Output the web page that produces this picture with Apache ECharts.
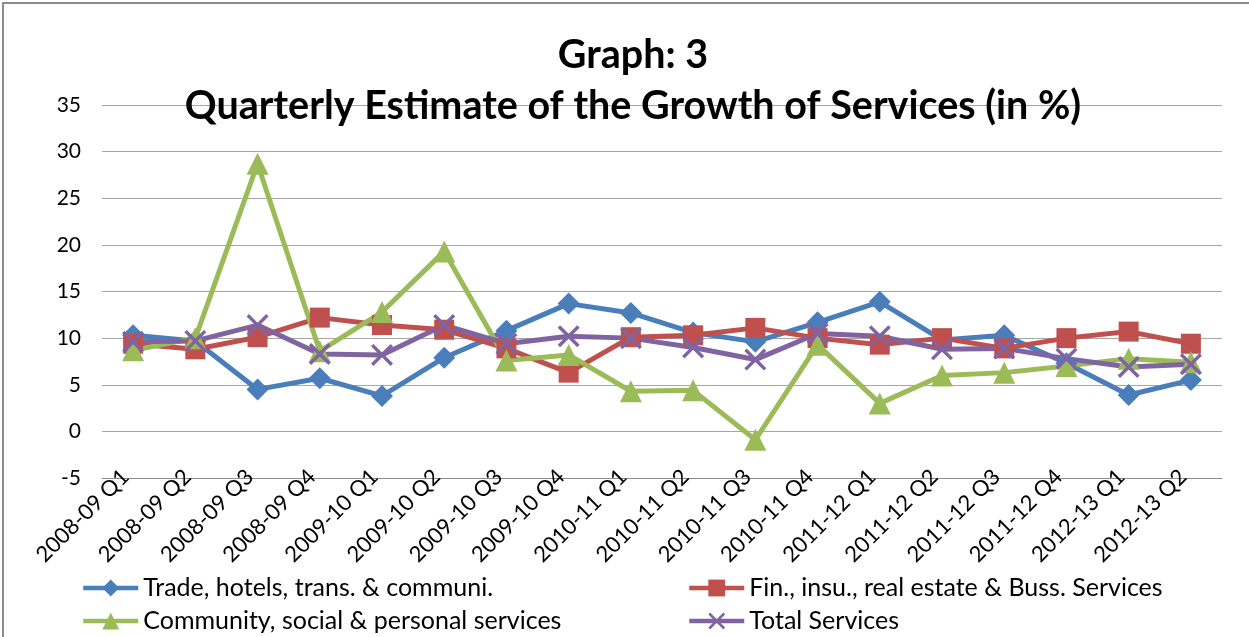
<!DOCTYPE html>
<html>
<head>
<meta charset="utf-8">
<script src="https://cdn.jsdelivr.net/npm/echarts@6/dist/echarts.min.js"></script>
<style>
  html, body { margin: 0; padding: 0; background: #fff; }
  #chart { width: 1249px; height: 637px; }
</style>
</head>
<body>
<div id="chart"></div>
<script>
// Quarters on the category axis
const quarters = [
  '2008-09 Q1', '2008-09 Q2', '2008-09 Q3', '2008-09 Q4',
  '2009-10 Q1', '2009-10 Q2', '2009-10 Q3', '2009-10 Q4',
  '2010-11 Q1', '2010-11 Q2', '2010-11 Q3', '2010-11 Q4',
  '2011-12 Q1', '2011-12 Q2', '2011-12 Q3', '2011-12 Q4',
  '2012-13 Q1', '2012-13 Q2'
];

// Growth rates (%) per sector
const trade = [10.3, 9.7, 4.5, 5.7, 3.8, 7.9, 10.8, 13.7, 12.7, 10.6, 9.6, 11.7, 13.9, 9.8, 10.3, 7.3, 3.9, 5.5];
const finance = [9.4, 8.8, 10.1, 12.2, 11.4, 10.9, 8.9, 6.3, 10.1, 10.3, 11.1, 10.0, 9.3, 10.0, 8.9, 10.0, 10.7, 9.4];
const community = [8.7, 10.0, 28.7, 8.6, 12.8, 19.3, 7.6, 8.2, 4.3, 4.4, -0.9, 9.3, 3.0, 6.0, 6.3, 7.0, 7.8, 7.4];
const total = [9.6, 9.7, 11.4, 8.3, 8.2, 11.4, 9.4, 10.2, 10.0, 9.0, 7.7, 10.5, 10.2, 8.8, 8.9, 7.8, 6.9, 7.2];

// Y-axis range and step
const yMin = -5, yMax = 35, yStep = 5;

const seriesNames = [
  'Trade, hotels, trans. & communi.',
  'Fin., insu., real estate & Buss. Services',
  'Community, social & personal services',
  'Total Services'
];

const FONT = 'Lato, "Open Sans", sans-serif';
const crossSymbol = 'path://M0,1.1 L1.1,0 L5,3.9 L8.9,0 L10,1.1 L6.1,5 L10,8.9 L8.9,10 L5,6.1 L1.1,10 L0,8.9 L3.9,5 Z';

function lineSeries(name, data, color, symbol, size) {
  return {
    name: name,
    type: 'line',
    data: data,
    symbol: symbol,
    symbolSize: size,
    lineStyle: { color: color, width: 5 },
    itemStyle: { color: color },
    emphasis: { disabled: true },
    animation: false
  };
}

// One legend block per entry, laid out as two rows of two
function legendAt(name, left, top) {
  return {
    left: left,
    top: top,
    padding: 0,
    itemWidth: 55,
    itemHeight: 21,
    itemGap: 0,
    data: [name],
    lineStyle: { width: 4.5 },
    textStyle: { fontFamily: FONT, fontSize: 25, color: '#000', lineHeight: 26 }
  };
}

const chart = echarts.init(document.getElementById('chart'));
chart.setOption({
  backgroundColor: '#fff',
  animation: false,
  title: {
    text: 'Graph: 3\nQuarterly Estimate of the Growth of Services (in %)',
    left: 628,
    textAlign: 'center',
    top: 25,
    textStyle: {
      fontFamily: FONT,
      fontSize: 39.5,
      fontWeight: 'bold',
      color: '#000',
      lineHeight: 51
    }
  },
  graphic: [{
    type: 'rect',
    shape: { x: 3, y: 3, width: 1300, height: 700 },
    style: { fill: 'none', stroke: '#8c8c8c', lineWidth: 2 },
    silent: true
  }],
  legend: [
    legendAt(seriesNames[0], 81, 575),
    legendAt(seriesNames[2], 81, 608),
    legendAt(seriesNames[1], 687, 575),
    legendAt(seriesNames[3], 687, 608)
  ],
  grid: { left: 102, right: 27, top: 105, bottom: 159, containLabel: false },
  xAxis: {
    type: 'category',
    data: quarters,
    boundaryGap: true,
    axisLine: { onZero: false, lineStyle: { color: '#8c8c8c', width: 1 } },
    axisTick: { show: false },
    axisLabel: {
      rotate: 45,
      interval: 0,
      margin: 3,
      verticalAlign: 'bottom',
      fontFamily: FONT,
      fontSize: 22,
      color: '#000'
    }
  },
  yAxis: {
    type: 'value',
    min: yMin,
    max: yMax,
    interval: yStep,
    axisLine: { show: false },
    axisTick: { show: false },
    splitLine: { lineStyle: { color: '#a6a6a6', width: 1 } },
    axisLabel: {
      margin: 21,
      fontFamily: FONT,
      fontSize: 21,
      color: '#000'
    }
  },
  series: [
    lineSeries(seriesNames[0], trade, '#4a7ebb', 'diamond', 22),
    lineSeries(seriesNames[1], finance, '#c0504d', 'rect', 20),
    lineSeries(seriesNames[2], community, '#9bbb59', 'triangle', 22),
    lineSeries(seriesNames[3], total, '#8064a2', crossSymbol, 22)
  ]
});
</script>
</body>
</html>
